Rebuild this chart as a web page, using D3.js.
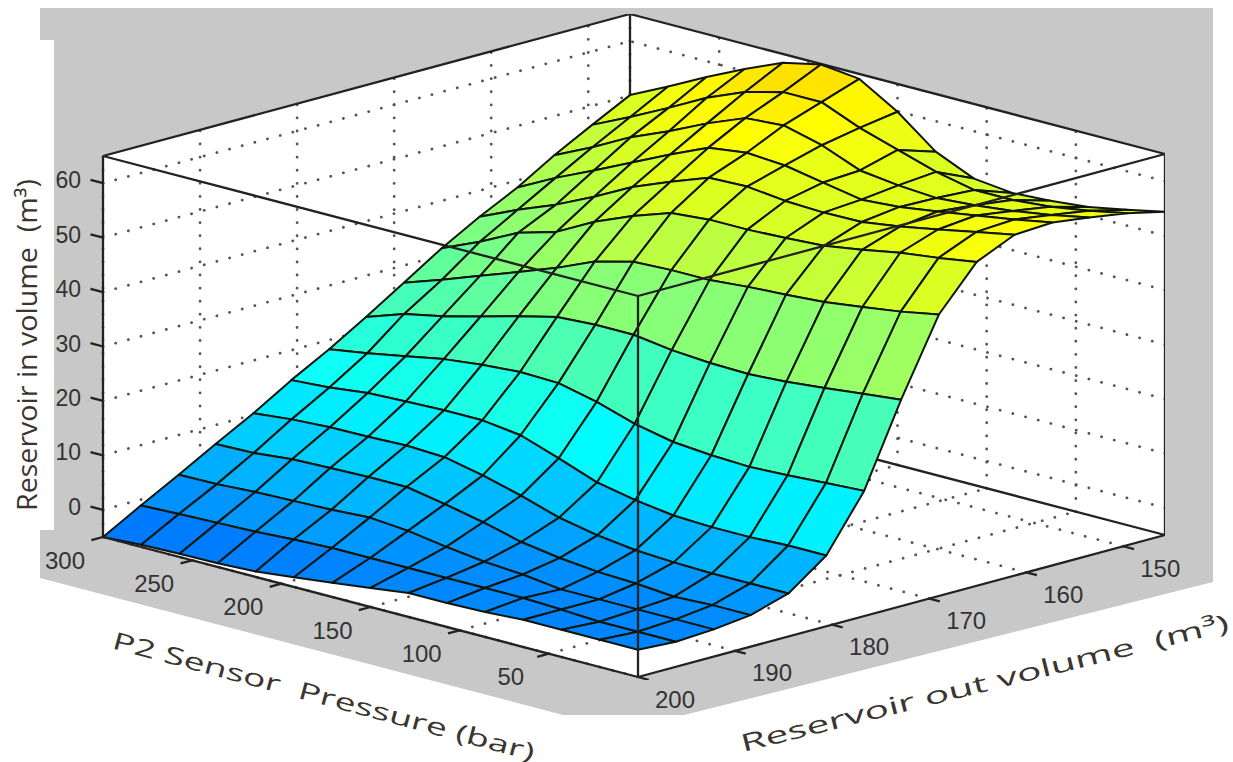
<!DOCTYPE html>
<html>

<head>
    <meta charset="utf-8" />
    <title>Reservoir in volume surface</title>
    <script src="https://d3js.org/d3.v7.min.js"></script>
    <style>
        body { margin: 0; background: #fff; }
        svg { display: block; }
        .title { white-space: pre; }
    </style>
</head>

<body>
    <svg width="1233" height="762">
        <defs>
            <filter id="soft" x="0" y="0" width="100%" height="100%">
                <feGaussianBlur stdDeviation="0.55" />
            </filter>
        </defs>
    </svg>

    <script>
        // Data
        var pressure = [0, 21.4, 42.9, 64.3, 85.7, 107.1, 128.6, 150, 171.4, 192.9, 214.3, 235.7, 257.1, 278.6, 300];
        var volumeOut = [200, 196.1, 192.2, 188.4, 184.5, 180.6, 176.7, 172.9, 169, 165.1, 161.2, 157.3, 153.5, 149.6, 145.7];

        // one row per volumeOut value, one column per pressure value
        var volumeIn = [
            [0, 0, 0, 0, -0.4, -0.6, -0.6, -1.5, -2.4, -3.2, -4, -4.3, -4.4, -4.6, -5],
            [-0.4, -0.4, -0.4, 0, 0.3, 0.3, 0.3, 0.3, 0.3, 0.3, 0, -0.4, -0.6, -0.8, -1.1],
            [0, 0, 0, 0, 0, 0.9, 1.4, 2.3, 3.4, 4, 3.6, 3.4, 3.2, 2.8, 2.7],
            [0.8, 0.8, 0.5, 1.1, 1.4, 2.1, 3.2, 5, 6.5, 7.8, 7.8, 7.6, 7.4, 6.7, 6.5],
            [2.9, 2.9, 2.9, 3.1, 3.5, 4.4, 5.8, 8, 9.9, 11.4, 11.7, 11.5, 11.4, 11, 10.3],
            [8, 8, 7.7, 7.7, 8, 9, 10.4, 13, 15.4, 16.3, 16.3, 16.1, 15.8, 15, 14.5],
            [18, 17.6, 17.2, 16.9, 17.2, 17.8, 19.3, 21.5, 23.1, 23.3, 22.8, 22, 20.7, 19.4, 18.3],
            [32.9, 32.2, 31.4, 30.7, 30.3, 30.5, 31, 32, 32, 31.6, 29.9, 28, 26.2, 24.8, 22.4],
            [46.7, 45.4, 44.4, 43.5, 43, 42.6, 42, 42, 41.7, 39.9, 36.9, 34.3, 31.8, 29.2, 26.8],
            [54.5, 53.4, 52.5, 51.2, 50.1, 49.7, 49.4, 49.4, 48.8, 46.4, 43.5, 39.8, 37.8, 34.3, 31.3],
            [57.6, 56.3, 54.9, 53.6, 52.6, 52.5, 52.8, 53.6, 53.4, 50.8, 48, 44.4, 41.1, 38.3, 35.2],
            [58, 56.7, 55.6, 54.5, 53.5, 53, 54.3, 55.6, 56.1, 55.2, 52.1, 48.8, 45.5, 42.3, 38.7],
            [57.1, 55.7, 54.6, 53.8, 53.3, 53.8, 54.7, 57.5, 59.3, 58.8, 56, 52.7, 49.8, 46.1, 42.8],
            [56, 54.6, 53.5, 52.9, 52.9, 54.4, 56.6, 58.8, 61.7, 61.7, 59.9, 57, 53.3, 49.8, 46.5],
            [54.4, 52.9, 51.6, 50.9, 50.5, 51.3, 54.4, 59.9, 64.1, 64.9, 63.4, 60.4, 57.1, 53.5, 50.1]
        ];

        var pressureTicks = [50, 100, 150, 200, 250, 300];
        var volumeTicks = [150, 160, 170, 180, 190, 200];
        var zTicks = [0, 10, 20, 30, 40, 50, 60];

        var pMin = 0, pMax = 300, vNear = 200, vFar = 145.7, zMin = -5, zMax = 65;

        var svg = d3.select("svg");

        // Axonometric view: each axis moves a point along its own screen direction
        var originX = 638, originY = 677;
        var pToX = d3.scaleLinear().domain([pMin, pMax]).range([0, -535]);
        var pToY = d3.scaleLinear().domain([pMin, pMax]).range([0, -140]);
        var vToX = d3.scaleLinear().domain([vNear, vFar]).range([0, 527]);
        var vToY = d3.scaleLinear().domain([vNear, vFar]).range([0, -142]);
        var zToY = d3.scaleLinear().domain([zMin, zMax]).range([0, -381]);

        function project(p, v, z) {
            return [originX + pToX(p) + vToX(v), originY + pToY(p) + vToY(v) + zToY(z)];
        }

        // Colormap is jet, but only the part from light blue to orange is in use
        var color = d3.scaleLinear()
            .domain([-5, 17, 58, 75])
            .range(["#0064ff", "#00ffff", "#ffff00", "#ffaa00"]);

        var line = d3.line();

        // Grey figure background
        svg.append("path")
            .attr("d", "M40,8H1213V582L684,715H563L40,578V530H54V40H40Z")
            .attr("fill", "#c8c8c8");

        var chart = svg.append("g").attr("filter", "url(#soft)");

        // White plot box
        chart.append("path")
            .attr("d", line([
                project(pMax, vNear, zMax), project(pMax, vFar, zMax), project(pMin, vFar, zMax),
                project(pMin, vFar, zMin), project(pMin, vNear, zMin), project(pMax, vNear, zMin)
            ]) + "Z")
            .attr("fill", "#fff");

        // Dotted grid on the two back walls and on the floor
        function gridLine(a, b) {
            chart.append("path")
                .attr("d", line([a, b]))
                .attr("fill", "none")
                .attr("stroke", "#555")
                .attr("stroke-width", 2.8)
                .attr("stroke-linecap", "round")
                .attr("stroke-dasharray", "0.1 13");
        }
        zTicks.forEach(function (z) {
            gridLine(project(pMax, vNear, z), project(pMax, vFar, z));
            gridLine(project(pMin, vFar, z), project(pMax, vFar, z));
        });
        volumeTicks.forEach(function (v) {
            gridLine(project(pMax, v, zMin), project(pMax, v, zMax));
            gridLine(project(pMin, v, zMin), project(pMax, v, zMin));
        });
        pressureTicks.forEach(function (p) {
            gridLine(project(p, vFar, zMin), project(p, vFar, zMax));
            gridLine(project(p, vNear, zMin), project(p, vFar, zMin));
        });

        function boxEdge(a, b) {
            chart.append("path")
                .attr("d", line([a, b]))
                .attr("fill", "none")
                .attr("stroke", "#222")
                .attr("stroke-width", 2.3);
        }

        // Box edges behind the surface
        boxEdge(project(pMax, vNear, zMin), project(pMax, vNear, zMax));
        boxEdge(project(pMin, vFar, zMin), project(pMin, vFar, zMax));
        boxEdge(project(pMax, vFar, zMin), project(pMax, vFar, zMax));
        boxEdge(project(pMax, vNear, zMax), project(pMax, vFar, zMax));
        boxEdge(project(pMin, vFar, zMax), project(pMax, vFar, zMax));
        boxEdge(project(pMax, vNear, zMin), project(pMax, vFar, zMin));
        boxEdge(project(pMin, vFar, zMin), project(pMax, vFar, zMin));

        // Surface cells, far ones first so the near ones paint over them
        var cells = [];
        d3.range(volumeOut.length - 1).forEach(function (i) {
            d3.range(pressure.length - 1).forEach(function (j) {
                cells.push({ i: i, j: j });
            });
        });
        cells.sort(function (a, b) {
            return (b.i + b.j) - (a.i + a.j);
        });

        chart.selectAll(".cell")
            .data(cells)
            .enter()
            .append("path")
            .attr("class", "cell")
            .attr("d", function (d) {
                var i = d.i, j = d.j;
                return line([
                    project(pressure[j], volumeOut[i], volumeIn[i][j]),
                    project(pressure[j + 1], volumeOut[i], volumeIn[i][j + 1]),
                    project(pressure[j + 1], volumeOut[i + 1], volumeIn[i + 1][j + 1]),
                    project(pressure[j], volumeOut[i + 1], volumeIn[i + 1][j])
                ]) + "Z";
            })
            .attr("fill", function (d) {
                // each cell is one flat colour, weighted to its upper edge
                return color(d3.interpolateNumber(volumeIn[d.i][d.j], volumeIn[d.i + 1][d.j])(0.7));
            })
            .attr("stroke", "#11150c")
            .attr("stroke-width", 2)
            .attr("stroke-linejoin", "round");

        // Box edges in front of the surface
        boxEdge(project(pMin, vNear, zMin), project(pMin, vNear, zMax));
        boxEdge(project(pMax, vNear, zMax), project(pMin, vNear, zMax));
        boxEdge(project(pMin, vFar, zMax), project(pMin, vNear, zMax));
        boxEdge(project(pMax, vNear, zMin), project(pMin, vNear, zMin));
        boxEdge(project(pMin, vFar, zMin), project(pMin, vNear, zMin));

        // Tick marks
        zTicks.forEach(function (z) {
            boxEdge(project(pMax, vNear, z), project(pMax + 7, vNear, z));
        });
        pressureTicks.forEach(function (p) {
            boxEdge(project(p, vNear, zMin), project(p, vNear + 1.2, zMin));
        });
        volumeTicks.forEach(function (v) {
            boxEdge(project(pMin, v, zMin), project(pMin - 6, v, zMin));
        });

        // Tick labels
        var tickFont = "'Liberation Sans', Arial, sans-serif";

        function tickLabel(pos, dx, dy, text) {
            svg.append("text")
                .attr("x", pos[0] + dx)
                .attr("y", pos[1] + dy)
                .attr("text-anchor", "middle")
                .attr("dominant-baseline", "central")
                .attr("fill", "#333")
                .style("font-family", tickFont)
                .style("font-size", "24px")
                .text(text);
        }
        zTicks.forEach(function (z) {
            var pos = project(pMax, vNear, z);
            svg.append("text")
                .attr("x", pos[0] - 22)
                .attr("y", pos[1] - 3)
                .attr("text-anchor", "end")
                .attr("dominant-baseline", "central")
                .attr("fill", "#333")
                .style("font-family", tickFont)
                .style("font-size", "23px")
                .text(z);
        });
        pressureTicks.forEach(function (p) {
            tickLabel(project(p, vNear, zMin), -38, 23, p);
        });
        volumeTicks.forEach(function (v) {
            tickLabel(project(pMin, v, zMin), 37, 22, v);
        });

        // Axis titles
        var titleFont = "'Open Sans', 'Noto Sans', sans-serif";

        function axisTitle(transform, size, length, text) {
            svg.append("text")
                .attr("class", "title")
                .attr("transform", transform)
                .attr("fill", "#3b3530")
                .style("font-family", titleFont)
                .style("font-size", size + "px")
                .attr("textLength", length)
                .attr("lengthAdjust", "spacingAndGlyphs")
                .text(text);
        }
        axisTitle("translate(37,511) rotate(-90)", 27, 332, "Reservoir in volume  (m³)");
        axisTitle("translate(111,648) rotate(15)", 24, 436, "P2 Sensor  Pressure (bar)");
        axisTitle("translate(743,752) rotate(-14)", 24, 502, "Reservoir out volume  (m³)");
    </script>
</body>

</html>
